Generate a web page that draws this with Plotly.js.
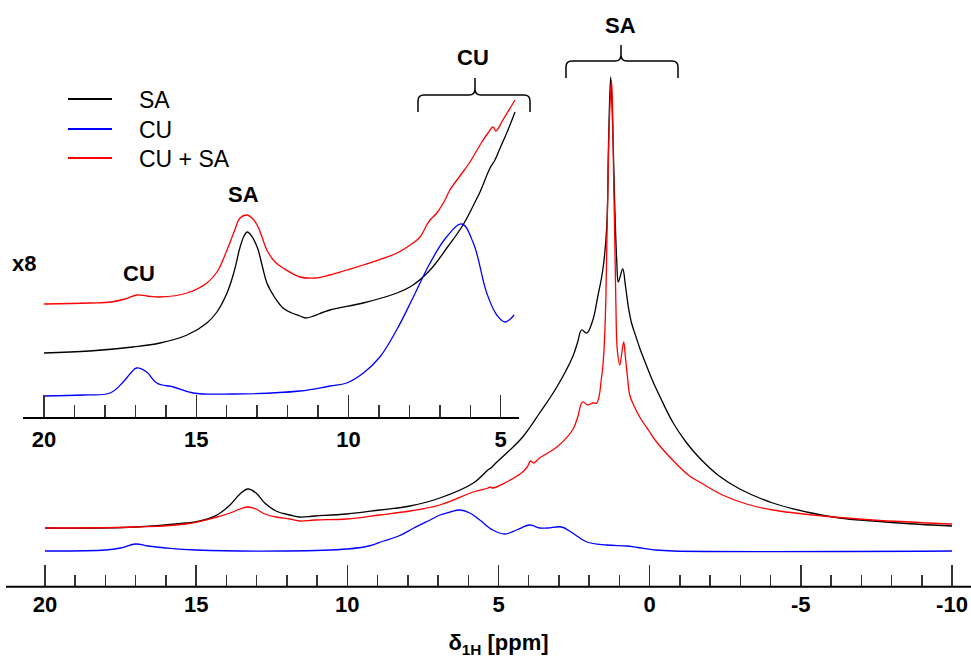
<!DOCTYPE html>
<html><head><meta charset="utf-8">
<script src="https://cdn.plot.ly/plotly-3.0.1.min.js"></script>
<style>html,body{margin:0;padding:0;background:#fff}</style>
</head><body>
<div id="chart" style="width:971px;height:658px"></div>
<script>
// ===== Data: 1H NMR spectra (chemical shift ppm, intensity a.u.) =====
const seriesNames = ['SA', 'CU', 'CU + SA'];

// Main panel
const ppmSA = [20.0, 17.0, 15.34, 14.88, 14.31, 13.88, 13.55, 13.29, 13.02, 12.73, 12.36, 11.9, 11.57, 11.07, 10.02, 8.93, 7.93, 6.94, 5.83, 5.35, 5.25, 5.12, 4.73, 4.2, 3.64, 3.07, 2.55, 2.38, 2.25, 2.08, 1.88, 1.72, 1.55, 1.42, 1.36, 1.29, 1.22, 1.16, 1.09, 1.04, 0.99, 0.89, 0.8, 0.7, 0.6, 0.45, 0.33, 0.1, -0.1, -0.33, -0.76, -1.2, -1.65, -2.3, -2.98, -4.07, -5.19, -6.28, -7.4, -8.5, -10.0];
const intSA = [0, 1, 5, 7, 13, 23, 34, 39, 35, 25, 17, 13, 11, 12, 14, 18, 22, 30, 45, 58, 60, 64, 75, 91, 115, 141, 171, 186, 198, 195, 208, 231, 258, 301, 385, 451, 398, 328, 268, 246, 250, 259, 242, 220, 205, 191, 180, 162, 147, 132, 106, 86, 70, 52, 39, 25, 16, 10, 7, 4.5, 2];

const ppmCU = [20.0, 18.0, 17.5, 17.0, 16.6, 16.0, 15.0, 12.0, 10.0, 9.3, 8.8, 8.3, 7.8, 7.2, 6.94, 6.6, 6.28, 5.95, 5.62, 5.19, 4.79, 4.4, 3.97, 3.64, 3.37, 2.91, 2.55, 2.08, 1.42, 0.76, 0.4, -0.2, -0.8, -10.0];
const intCU = [0, 1, 3, 7, 5, 3, 1, 0, 2, 5, 10, 15, 23, 32, 36, 39, 41, 38, 31, 21, 17, 21, 26, 23, 23, 24, 18, 9, 6, 5, 3.5, 1, 0, 0];

const ppmMix = [20.0, 17.0, 15.34, 14.31, 13.88, 13.55, 13.29, 13.02, 12.73, 12.36, 11.9, 11.57, 11.07, 10.02, 8.93, 7.93, 6.94, 5.83, 5.35, 5.29, 5.2, 4.73, 4.2, 4.05, 3.94, 3.84, 3.64, 3.07, 2.55, 2.38, 2.22, 2.05, 1.88, 1.75, 1.59, 1.52, 1.45, 1.39, 1.32, 1.26, 1.19, 1.12, 1.07, 0.99, 0.93, 0.86, 0.8, 0.73, 0.66, 0.5, 0.33, 0.0, -0.23, -0.76, -1.32, -1.65, -2.41, -3.2, -4.07, -5.72, -7.37, -10.0];
const intMix = [0, 1, 4, 11, 15, 19, 21, 19, 14, 11, 9, 7, 8, 9, 13, 17, 23, 36, 40, 41, 40, 46, 56, 61, 67, 65, 70, 81, 98, 111, 126, 123, 125, 125, 151, 173, 228, 328, 418, 448, 348, 228, 178, 163, 173, 186, 170, 150, 133, 121, 111, 96, 86, 68, 52, 46, 33, 24, 18, 12, 8, 4];

// Inset (x8 magnification)
const insetPpmSA = [20.0, 18.5, 17.08, 16.19, 15.3, 14.65, 14.32, 13.99, 13.76, 13.56, 13.43, 13.33, 13.23, 13.0, 12.84, 12.68, 12.41, 12.15, 11.86, 11.59, 11.4, 10.61, 9.52, 8.41, 7.88, 7.32, 6.77, 6.24, 5.81, 5.68, 5.35, 5.19, 5.02, 4.79, 4.53];
const insetIntSA = [0, 2, 6, 10, 18, 30, 41, 60, 81, 106, 117, 121, 119, 106, 88, 70, 55, 45, 40, 37, 35, 43, 50, 60, 68, 83, 105, 128, 153, 161, 185, 193, 205, 221, 241];

const insetPpmCU = [20.0, 18.7, 17.83, 17.4, 17.15, 16.96, 16.63, 16.3, 15.75, 15.1, 13.8, 11.6, 10.61, 10.06, 9.51, 8.97, 8.42, 7.87, 7.32, 6.78, 6.28, 5.9, 5.46, 5.13, 4.86, 4.56];
const insetIntCU = [0, 1, 3, 14, 23, 28, 24, 13, 9, 3, 2, 5, 10, 13, 23, 39, 66, 99, 133, 159, 172, 153, 103, 81, 74, 81];

const insetPpmMix = [20.0, 18.5, 17.8, 17.34, 16.95, 16.62, 16.19, 15.3, 14.65, 14.32, 13.99, 13.76, 13.56, 13.33, 13.17, 13.0, 12.84, 12.68, 12.41, 12.15, 11.59, 11.1, 10.61, 10.05, 9.52, 8.41, 7.88, 7.65, 7.43, 7.32, 7.1, 6.83, 6.67, 6.34, 6.01, 5.68, 5.42, 5.25, 5.16, 4.93, 4.53];
const insetIntMix = [0, 1, 2, 5, 9, 8, 7, 11, 21, 32, 54, 72, 86, 89, 86, 79, 67, 54, 42, 36, 27, 26, 29, 34, 39, 51, 61, 67, 79, 84, 91, 104, 114, 128, 142, 159, 171, 177, 173, 184, 204];

// Axis tick labels
const mainTickVals = [20, 15, 10, 5, 0, -5, -10];
const mainTickText = ['20', '15', '10', '5', '0', '-5', '-10'];
const insetTickVals = [20, 15, 10, 5];
const insetTickText = ['20', '15', '10', '5'];

// ===== Layout / styling =====
const W = 971, H = 658;
const fx = p => p / W, fy = p => 1 - p / H;
const FONT = 'Liberation Sans, Arial, Helvetica, sans-serif';
const colors = {SA: '#000000', CU: '#0000ff', MIX: '#ff0000'};
const LW = 1.3;
// stacking offsets (vertical display offsets)
const mainOffset = {SA: 23, CU: 0, MIX: 23};
const insetOffset = {SA: 43, CU: 0, MIX: 92};

const add = (arr, o) => arr.map(v => v + o);
const minorVals = (hi, lo) => { const r = []; for (let v = hi; v >= lo; v--) if (v % 5 !== 0) r.push(v); return r; };

const traces = [
  {x: ppmSA, y: add(intSA, mainOffset.SA), name: seriesNames[0], line: {color: colors.SA, width: LW}},
  {x: ppmCU, y: add(intCU, mainOffset.CU), name: seriesNames[1], line: {color: colors.CU, width: LW}},
  {x: ppmMix, y: add(intMix, mainOffset.MIX), name: seriesNames[2], line: {color: colors.MIX, width: LW}},
  {x: insetPpmSA, y: add(insetIntSA, insetOffset.SA), xaxis: 'x2', yaxis: 'y2', name: seriesNames[0], line: {color: colors.SA, width: LW}},
  {x: insetPpmCU, y: add(insetIntCU, insetOffset.CU), xaxis: 'x2', yaxis: 'y2', name: seriesNames[1], line: {color: colors.CU, width: LW}},
  {x: insetPpmMix, y: add(insetIntMix, insetOffset.MIX), xaxis: 'x2', yaxis: 'y2', name: seriesNames[2], line: {color: colors.MIX, width: LW}}
].map(t => Object.assign({type: 'scatter', mode: 'lines', hoverinfo: 'skip', showlegend: false}, t,
  {line: Object.assign({shape: 'spline', smoothing: 1.1}, t.line)}));

const tickFont = {family: FONT, size: 22, color: '#000', weight: 'bold'};
function xAxisStyle(extra) {
  return Object.assign({
    showline: true, linecolor: '#000', linewidth: 2,
    ticks: 'inside', ticklen: 22, tickwidth: 1.5, tickcolor: '#333',
    tickmode: 'array', tickfont: tickFont, ticklabelstandoff: 2,
    showgrid: false, zeroline: false, fixedrange: true
  }, extra);
}

const P = (x, y) => fx(x).toFixed(5) + ',' + fy(y).toFixed(5);
function bracePath(x0, x1, xm, yEnd, yBar, yTip, r) {
  return 'M' + P(x0, yEnd) + ' L' + P(x0, yBar + r) + ' Q' + P(x0, yBar) + ' ' + P(x0 + r, yBar) +
    ' L' + P(xm - r, yBar) + ' Q' + P(xm, yBar) + ' ' + P(xm, yBar - r) + ' L' + P(xm, yTip) +
    ' M' + P(xm, yBar - r) + ' Q' + P(xm, yBar) + ' ' + P(xm + r, yBar) + ' L' + P(x1 - r, yBar) +
    ' Q' + P(x1, yBar) + ' ' + P(x1, yBar + r) + ' L' + P(x1, yEnd);
}
const hline = (x0, x1, y, color, width) => ({type: 'line', xref: 'paper', yref: 'paper', x0: fx(x0), x1: fx(x1), y0: fy(y), y1: fy(y), line: {color: color, width: width}});

const boldFont = {family: FONT, size: 22, color: '#000', weight: 'bold'};
const ann = (text, x, y) => ({text: text, xref: 'paper', yref: 'paper', x: fx(x), y: fy(y), xanchor: 'center', yanchor: 'middle', showarrow: false, font: boldFont});

// manual legend (line samples + labels)
const legendColors = [colors.SA, colors.CU, colors.MIX];
const legendRows = [99, 129, 158];
const legendShapes = legendRows.map((y, i) => hline(68, 112, y, legendColors[i], 2));
const legendAnns = legendRows.map((y, i) => ({text: seriesNames[i], xref: 'paper', yref: 'paper', x: fx(137), y: fy(y + 1), xanchor: 'left', yanchor: 'middle', showarrow: false, font: {family: FONT, size: 23, color: '#000'}}));

// main axis: 20 ppm at x=45 px, -10 ppm at x=952 px (domain padded by 4 px each side so end ticks are drawn)
const mainPxPerPpm = (952 - 45) / 30;
const PADPX = 4;
const mainPad = PADPX / mainPxPerPpm;

const layout = {
  width: W, height: H,
  margin: {l: 0, r: 0, t: 0, b: 0},
  paper_bgcolor: '#ffffff', plot_bgcolor: 'rgba(0,0,0,0)',
  font: {family: FONT, color: '#000'},
  showlegend: false,
  xaxis: xAxisStyle({domain: [fx(45 - PADPX), fx(952 + PADPX)], range: [20 + mainPad, -10 - mainPad], anchor: 'y', showline: false,
    tickvals: mainTickVals, ticktext: mainTickText,
    minor: {tickmode: 'array', tickvals: minorVals(19, -9), ticks: 'inside', ticklen: 12, tickwidth: 1.5, tickcolor: '#333', showgrid: false},
    title: {text: 'δ<sub>1H</sub> [ppm]', font: boldFont, standoff: 24}}),
  yaxis: {domain: [fy(586.7), 1], range: [-35.7, 551], visible: false, fixedrange: true},
  xaxis2: xAxisStyle({domain: [fx(23), fx(519)], range: [20.69, 4.40], anchor: 'y2',
    tickvals: insetTickVals, ticktext: insetTickText,
    minor: {tickmode: 'array', tickvals: minorVals(19, 5), ticks: 'inside', ticklen: 12, tickwidth: 1.5, tickcolor: '#333', showgrid: false}}),
  yaxis2: {domain: [fy(416.7), fy(60)], range: [-20.7, 336], visible: false, anchor: 'x2', fixedrange: true},
  shapes: [
    hline(6, 971, 586.7, '#000', 2),
    {type: 'path', xref: 'paper', yref: 'paper', path: bracePath(418, 530, 475, 112, 95, 78, 6), line: {color: '#000', width: 1.5}},
    {type: 'path', xref: 'paper', yref: 'paper', path: bracePath(566, 678, 621, 78, 61, 45, 6), line: {color: '#000', width: 1.5}}
  ].concat(legendShapes),
  annotations: [
    ann('x8', 24, 263),
    ann('CU', 139, 273),
    ann('SA', 243.5, 195),
    ann('CU', 473, 58),
    ann('SA', 620, 25)
  ].concat(legendAnns)
};

Plotly.newPlot('chart', traces, layout, {staticPlot: true, displayModeBar: false});
</script>
</body></html>
